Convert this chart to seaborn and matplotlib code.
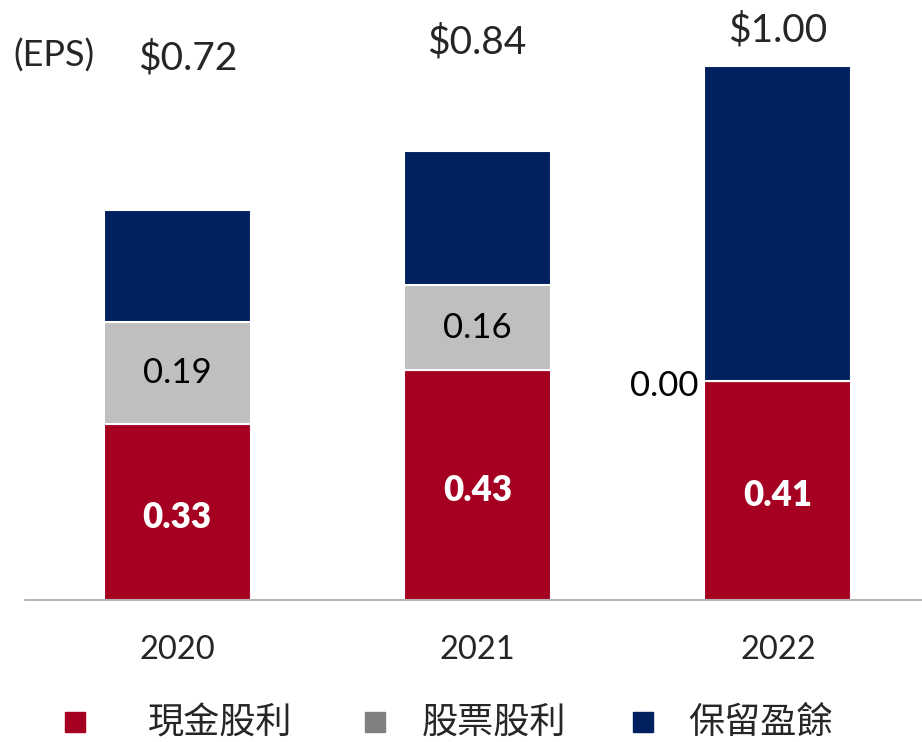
import matplotlib
matplotlib.use("Agg")
import matplotlib.pyplot as plt
from matplotlib.lines import Line2D
import seaborn as sns
import pandas as pd
import numpy as np

years = ["2020", "2021", "2022"]
cash_div = [0.33, 0.43, 0.41]
stock_div = [0.19, 0.16, 0.00]
retained = [0.21, 0.25, 0.59]
eps_labels = ["$0.72", "$0.84", "$1.00"]
series_names = ["現金股利", "股票股利", "保留盈餘"]

c_red = "#A50021"
c_gray = "#BFBFBF"
c_gray_leg = "#808080"
c_navy = "#002060"

sns.set_theme(style="white")
plt.rcParams["font.family"] = ["Lato", "Noto Sans CJK TC", "DejaVu Sans"]

df = pd.DataFrame({"year": years, "cash": cash_div, "stock": stock_div, "ret": retained})

fig = plt.figure(figsize=(9.22, 7.42), dpi=100)
ax = fig.add_axes([25/922, 142/742, 897/922, 600/742])

b1 = np.array(cash_div)
b2 = b1 + np.array(stock_div)
sns.barplot(data=df, x="year", y="cash", color=c_red, width=0.49, ax=ax,
            edgecolor="white", linewidth=1.5, saturation=1)
sns.barplot(data=df, x="year", y="stock", color=c_gray, width=0.49, ax=ax,
            bottom=b1, edgecolor="white", linewidth=1.5, saturation=1)
sns.barplot(data=df, x="year", y="ret", color=c_navy, width=0.49, ax=ax,
            bottom=b2, edgecolor="white", linewidth=1.5, saturation=1)

ax.set_xlim(-0.507, 2.48)
ax.set_ylim(0, 600/534)
ax.set_xlabel("")
ax.set_ylabel("")
ax.set_yticks([])
ax.tick_params(axis="x", length=0, pad=25, labelsize=23.5)
for s in ["top", "left", "right"]:
    ax.spines[s].set_visible(False)
ax.spines["bottom"].set_color("#A6A6A6")
ax.spines["bottom"].set_linewidth(1.2)

# segment labels
for i in range(3):
    ax.text(i, cash_div[i] / 2 - 0.01, f"{cash_div[i]:.2f}", ha="center", va="center",
            color="white", fontsize=25, fontweight="heavy")
for i in range(2):
    ax.text(i, b1[i] + stock_div[i] / 2, f"{stock_div[i]:.2f}", ha="center", va="center",
            color="black", fontsize=25)
ax.text(2 - 0.245 - 0.02, 0.40, f"{stock_div[2]:.2f}", ha="right", va="center",
        color="black", fontsize=25)

# total labels (fixed positions above bars)
tot_y = [58, 42, 30]
tot_x = [188/922, 477/922, 778/922]
for i in range(3):
    fig.text(tot_x[i], 1 - tot_y[i]/742, eps_labels[i], ha="center", va="center",
             fontsize=28)
fig.text(13/922, 1 - 56/742, "(EPS)", ha="left", va="center", fontsize=26)

# legend (manually placed items)
sq_x = [75, 375, 643]
txt_x = [148, 422, 688]
leg_y = 1 - 722/742
for c, sx, tx, name in zip([c_red, c_gray_leg, c_navy], sq_x, txt_x, series_names):
    fig.add_artist(Line2D([sx/922], [leg_y], marker="s", linestyle="", markersize=14,
                          color=c, transform=fig.transFigure))
    fig.text(tx/922, leg_y, name, ha="left", va="center", fontsize=26)

fig.savefig("out.png", dpi=100)
